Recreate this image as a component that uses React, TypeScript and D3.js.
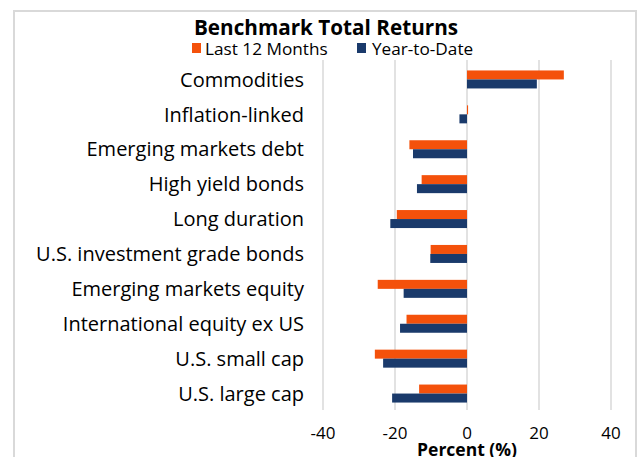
import React from "react";
import * as d3 from "d3";

const categories = [
  "Commodities",
  "Inflation-linked",
  "Emerging markets debt",
  "High yield bonds",
  "Long duration",
  "U.S. investment grade bonds",
  "Emerging markets equity",
  "International equity ex US",
  "U.S. small cap",
  "U.S. large cap",
];
const last12Months = [26.9, 0.3, -16.0, -12.6, -19.5, -10.1, -24.8, -16.8, -25.6, -13.3];
const yearToDate = [19.4, -2.1, -15.0, -13.9, -21.3, -10.2, -17.6, -18.6, -23.3, -20.8];
const seriesNames = ["Last 12 Months", "Year-to-Date"];
const seriesColors = ["#F4510B", "#1A3A6B"];
const xTicks = [-40, -20, 0, 20, 40];

const FONT = "'Open Sans', 'DejaVu Sans', sans-serif";

export default function App() {
  const W = 639;
  const H = 457;
  const x = d3.scaleLinear().domain([-40, 40]).range([323, 611]);
  const y = d3.scaleBand<string>().domain(categories).range([62, 411]).padding(0);
  const inner = d3.scaleBand<string>().domain(seriesNames).range([0, 18]).padding(0);
  const series = [last12Months, yearToDate];

  return (
    <svg
      width={W}
      height={H}
      style={{ position: "absolute", left: 0, top: 0, background: "#fff" }}
      fontFamily={FONT}
    >
      <rect x={0} y={0} width={W} height={H} fill="#fff" />
      <rect x={14} y={11} width={622} height={470} fill="none" stroke="#d9d9d9" strokeWidth={2} />

      {xTicks.map((t) => (
        <line key={t} x1={x(t)} x2={x(t)} y1={60} y2={410} stroke="#d9d9d9" strokeWidth={1.5} />
      ))}

      {categories.map((c, i) => {
        const bandCenter = (y(c) as number) + y.bandwidth() / 2;
        return (
          <g key={c}>
            {series.map((vals, s) => {
              const v = vals[i];
              const x0 = x(Math.min(0, v));
              const x1 = x(Math.max(0, v));
              return (
                <rect
                  key={s}
                  x={x0}
                  y={bandCenter - 9 + (inner(seriesNames[s]) as number)}
                  width={Math.max(0.6, x1 - x0)}
                  height={inner.bandwidth()}
                  fill={seriesColors[s]}
                />
              );
            })}
            <text
              x={304}
              y={bandCenter}
              dy="0.36em"
              textAnchor="end"
              fontSize={20}
              fill="#000"
            >
              {c}
            </text>
          </g>
        );
      })}

      {xTicks.map((t) => (
        <text key={"l" + t} x={x(t)} y={439} textAnchor="middle" fontSize={17} fill="#000">
          {t}
        </text>
      ))}
      <text x={467} y={455.5} textAnchor="middle" fontSize={17.5} fontWeight="bold" fill="#000">
        Percent (%)
      </text>

      <text x={326} y={35} textAnchor="middle" fontSize={20.7} fontWeight="bold" fill="#000">
        Benchmark Total Returns
      </text>
      <g>
        <rect x={192} y={43} width={9} height={10} fill={seriesColors[0]} />
        <text x={205} y={55} fontSize={17.2} fill="#000">
          {seriesNames[0]}
        </text>
        <rect x={357} y={43} width={9} height={10} fill={seriesColors[1]} />
        <text x={372} y={55} fontSize={17.2} fill="#000">
          {seriesNames[1]}
        </text>
      </g>
    </svg>
  );
}
